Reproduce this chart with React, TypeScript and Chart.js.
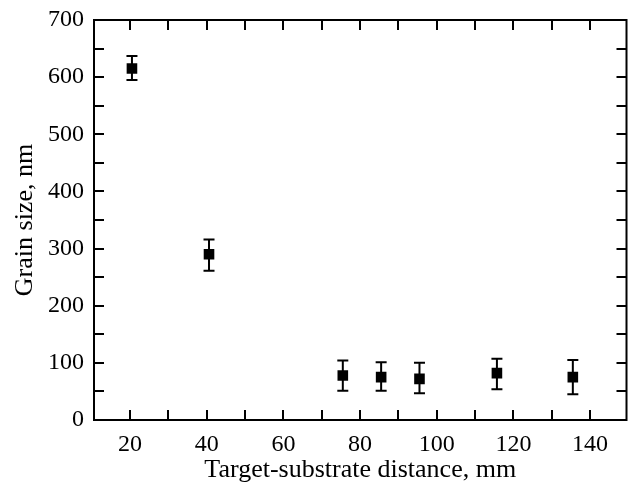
import React, { useEffect, useRef } from "react";
import { Chart, registerables } from "chart.js";

Chart.register(...registerables);

const distances = [20.5, 40.6, 75.5, 85.5, 95.5, 115.7, 135.5];
const grainSizes = [615, 290, 78, 75, 72, 82, 75];
const errLow = [595, 261, 51, 51, 47, 54, 45];
const errHigh = [637, 316, 104, 101, 100, 107, 105];

const X_MIN = 10.6;
const X_MAX = 149.5;
const Y_MIN = 0;
const Y_MAX = 700;
const FONT = "'Liberation Serif', 'Times New Roman', serif";

const framePlugin = {
  id: "frameAndTicks",
  afterDatasetsDraw(chart: any) {
    const { ctx, chartArea: a, scales } = chart;
    const xs = scales.x;
    const ys = scales.y;
    ctx.save();
    ctx.strokeStyle = "#000";
    ctx.lineWidth = 2;
    // error bars
    const cap = 5.5;
    for (let i = 0; i < distances.length; i++) {
      const px = xs.getPixelForValue(distances[i]);
      const lo = ys.getPixelForValue(errLow[i]);
      const hi = ys.getPixelForValue(errHigh[i]);
      ctx.beginPath();
      ctx.moveTo(px, lo);
      ctx.lineTo(px, hi);
      ctx.moveTo(px - cap, lo);
      ctx.lineTo(px + cap, lo);
      ctx.moveTo(px - cap, hi);
      ctx.lineTo(px + cap, hi);
      ctx.stroke();
    }
    // frame
    ctx.strokeRect(a.left, a.top, a.right - a.left, a.bottom - a.top);
    // inward ticks on all sides
    const len = 10;
    ctx.beginPath();
    for (let v = 20; v <= 140; v += 10) {
      const px = Math.round(xs.getPixelForValue(v));
      ctx.moveTo(px, a.bottom);
      ctx.lineTo(px, a.bottom - len);
      ctx.moveTo(px, a.top);
      ctx.lineTo(px, a.top + len);
    }
    for (let v = 50; v < 700; v += 50) {
      const py = Math.round(ys.getPixelForValue(v));
      ctx.moveTo(a.left, py);
      ctx.lineTo(a.left + len, py);
      ctx.moveTo(a.right, py);
      ctx.lineTo(a.right - len, py);
    }
    ctx.stroke();
    ctx.restore();
  },
};

export default function App() {
  const ref = useRef<HTMLCanvasElement>(null);
  useEffect(() => {
    if (!ref.current) return;
    const chart = new Chart(ref.current, {
      type: "scatter",
      data: {
        datasets: [
          {
            data: distances.map((d, i) => ({ x: d, y: grainSizes[i] })),
            pointStyle: "rect",
            pointRadius: 7.5,
            backgroundColor: "#000",
            borderColor: "#000",
            borderWidth: 0,
          },
        ],
      },
      options: {
        animation: false,
        responsive: true,
        maintainAspectRatio: false,
        layout: { padding: { top: 20, right: 5, left: 0, bottom: 0 } },
        plugins: { legend: { display: false }, tooltip: { enabled: false } },
        scales: {
          x: {
            type: "linear",
            min: X_MIN,
            max: X_MAX,
            grid: { display: false, drawTicks: false },
            border: { display: false },
            ticks: {
              stepSize: 10,
              includeBounds: false,
              autoSkip: false,
              maxRotation: 0,
              padding: 10,
              color: "#000",
              font: { family: FONT, size: 24 },
              callback: (v: any) => (Number(v) % 20 === 0 ? String(v) : ""),
            },
            title: {
              display: true,
              text: "Target-substrate distance, mm",
              color: "#000",
              font: { family: FONT, size: 26, lineHeight: 1 },
              padding: { top: 0, bottom: 1 },
            },
            afterFit: (s: any) => {
              s.height = 64;
              s.paddingLeft = 0;
              s.paddingRight = 0;
            },
          },
          y: {
            type: "linear",
            min: Y_MIN,
            max: Y_MAX,
            grid: { display: false, drawTicks: false },
            border: { display: false },
            ticks: {
              stepSize: 50,
              autoSkip: false,
              padding: 10,
              color: "#000",
              font: { family: FONT, size: 24 },
              callback: (v: any) => (Number(v) % 100 === 0 ? String(v) : ""),
            },
            title: {
              display: true,
              text: "Grain size, nm",
              color: "#000",
              font: { family: FONT, size: 26, lineHeight: 1 },
              padding: { top: 12, bottom: 0 },
            },
            afterFit: (s: any) => {
              s.width = 94;
              s.paddingTop = 0;
              s.paddingBottom = 0;
            },
          },
        },
      },
      plugins: [framePlugin],
    });
    return () => chart.destroy();
  }, []);
  return (
    <div style={{ position: "fixed", left: 0, top: 0, width: 634, height: 484 }}>
      <canvas ref={ref} />
    </div>
  );
}
